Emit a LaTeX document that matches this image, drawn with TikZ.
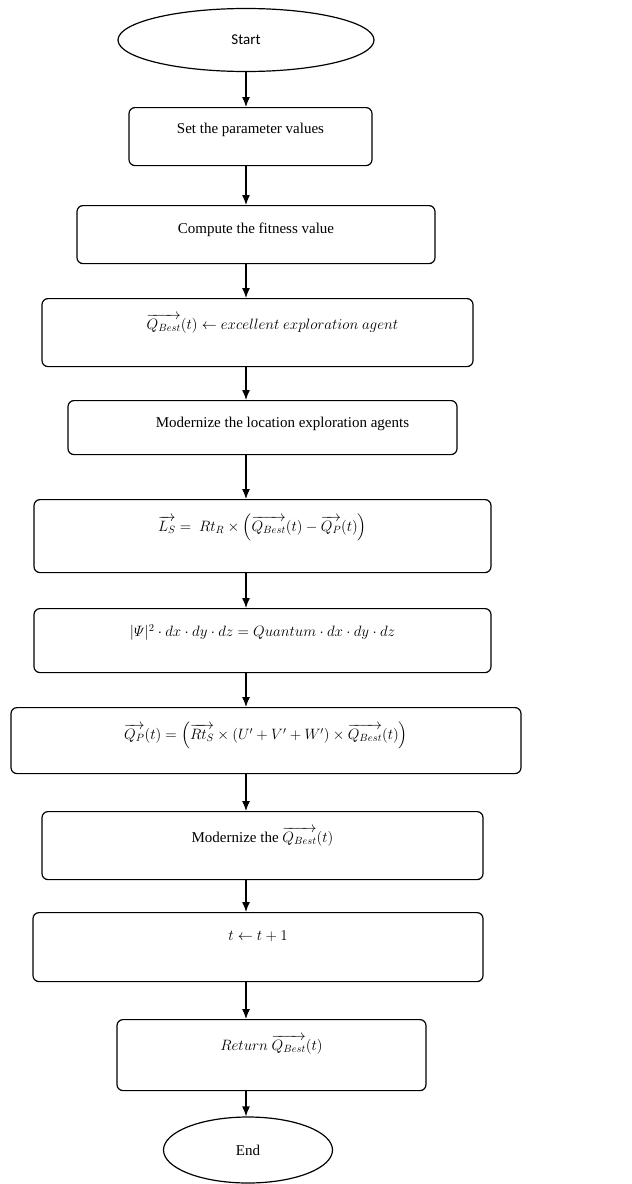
\documentclass[tikz,border=0pt]{standalone}
\usepackage{fix-cm}
\usepackage{amsmath,amssymb}
\usepackage{fontspec}
\setmainfont{Liberation Serif}
\newfontfamily\startfont{Carlito}
\usepackage{tikz}
\usetikzlibrary{shapes.geometric,arrows.meta}

\begin{document}
\begin{tikzpicture}[x=1pt, y=1pt, line width=1.2pt,
    terminal/.style={draw, ellipse, inner sep=0pt},
    stepbox/.style={draw, rectangle, rounded corners=6pt, inner sep=0pt, align=flush center, anchor=north},
    flow/.style={-{Latex[length=10pt, width=8pt]}}]
    \fontsize{15pt}{18pt}\selectfont
    \useasboundingbox (0,0) rectangle (632,-1184);
\node[terminal, minimum width=256pt, minimum height=63pt] (start) at (246,-40) {\startfont Start};
\node[stepbox, text width=243pt, text height=26pt, text depth=32pt] (b1) at (250.5,-107) {Set the parameter values};
\node[stepbox, text width=358pt, text height=28pt, text depth=30pt] (b2) at (256,-205) {Compute the fitness value};
\node[stepbox, text width=431pt, text height=31pt, text depth=37pt] (b3) at (257.5,-298) {\hspace*{30pt}$\overrightarrow{Q_{Best}}(t) \leftarrow excellent\ exploration\ agent$};
\node[stepbox, text width=389pt, text height=27pt, text depth=27pt] (b4) at (262.5,-400) {\hspace*{40pt}Modernize the location exploration agents};
\node[stepbox, text width=457pt, text height=32pt, text depth=41pt] (b5) at (262.5,-499) {$\overrightarrow{L_S} =\ Rt_R \times \left(\overrightarrow{Q_{Best}}(t) - \overrightarrow{Q_P}(t)\right)$};
\node[stepbox, text width=457pt, text height=28pt, text depth=36pt] (b6) at (262.5,-608) {$|\varPsi|^2 \cdot dx \cdot dy \cdot dz = Quantum \cdot dx \cdot dy \cdot dz$};
\node[stepbox, text width=510pt, text height=32pt, text depth=34pt] (b7) at (266,-707) {$\overrightarrow{Q_P}(t) = \left(\overrightarrow{Rt_S} \times (U' + V' + W') \times \overrightarrow{Q_{Best}}(t)\right)$\hspace*{40pt}};
\node[stepbox, text width=441pt, text height=31pt, text depth=37pt] (b8) at (262.5,-811) {Modernize the $\overrightarrow{Q_{Best}}(t)$};
\node[stepbox, text width=450pt, text height=28pt, text depth=41pt] (b9) at (258,-912) {$t \leftarrow t + 1$};
\node[stepbox, text width=309pt, text height=31pt, text depth=40pt] (b10) at (271.5,-1019) {$Return\ \overrightarrow{Q_{Best}}(t)$};
\node[terminal, minimum width=169pt, minimum height=66pt] (end) at (248,-1150) {End};
\draw[flow] (start.south) -- (b1.north -| start);
\draw[flow] (b1.south -| start) -- (b2.north -| start);
\draw[flow] (b2.south -| start) -- (b3.north -| start);
\draw[flow] (b3.south -| start) -- (b4.north -| start);
\draw[flow] (b4.south -| start) -- (b5.north -| start);
\draw[flow] (b5.south -| start) -- (b6.north -| start);
\draw[flow] (b6.south -| start) -- (b7.north -| start);
\draw[flow] (b7.south -| start) -- (b8.north -| start);
\draw[flow] (b8.south -| start) -- (b9.north -| start);
\draw[flow] (b9.south -| start) -- (b10.north -| start);
\draw[flow] (b10.south -| start) -- (end.north -| start);
\end{tikzpicture}
\end{document}
